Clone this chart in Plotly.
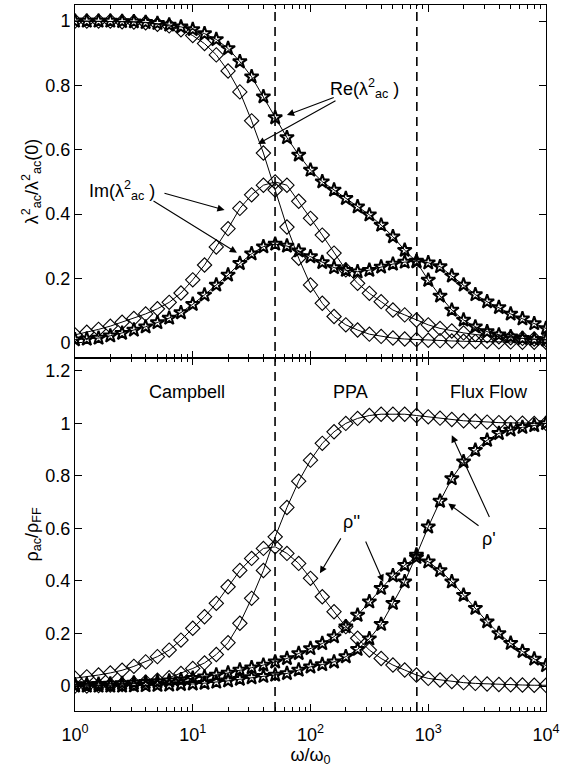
import math
import plotly.graph_objects as go

# frequency grid omega/omega0 (10 points per decade)
omega = [1, 1.259, 1.585, 1.995, 2.512, 3.162, 3.981, 5.012, 6.310, 7.943,
         10, 12.59, 15.85, 19.95, 25.12, 31.62, 39.81, 50.12, 63.10, 79.43,
         100, 125.9, 158.5, 199.5, 251.2, 316.2, 398.1, 501.2, 631.0, 794.3,
         1000, 1259, 1585, 1995, 2512, 3162, 3981, 5012, 6310, 7943, 10000]

# top panel: lambda_ac^2 / lambda_ac^2(0)
re_lam_diamond = [1.0, 1.0, 1.0, 1.0, 0.998, 0.997, 0.995, 0.99, 0.985, 0.973,
                  0.955, 0.93, 0.895, 0.845, 0.78, 0.69, 0.59, 0.475, 0.36, 0.263,
                  0.18, 0.123, 0.082, 0.056, 0.04, 0.027, 0.02, 0.015, 0.012, 0.01,
                  0.008, 0.007, 0.006, 0.005, 0.004, 0.004, 0.003, 0.003, 0.002, 0.002, 0.002]
im_lam_diamond = [0.025, 0.033, 0.042, 0.052, 0.064, 0.076, 0.09, 0.106, 0.126, 0.155,
                  0.196, 0.242, 0.298, 0.355, 0.418, 0.46, 0.49, 0.5, 0.49, 0.44,
                  0.387, 0.335, 0.279, 0.227, 0.185, 0.154, 0.128, 0.102, 0.087, 0.071,
                  0.056, 0.045, 0.037, 0.031, 0.026, 0.022, 0.019, 0.016, 0.014, 0.012, 0.01]
re_lam_star = [1.0, 1.0, 1.0, 1.0, 0.999, 0.998, 0.996, 0.993, 0.988, 0.982,
               0.974, 0.961, 0.943, 0.915, 0.874, 0.827, 0.765, 0.70, 0.638, 0.584,
               0.537, 0.501, 0.475, 0.449, 0.423, 0.398, 0.366, 0.33, 0.288, 0.252,
               0.195, 0.146, 0.102, 0.071, 0.05, 0.035, 0.025, 0.019, 0.014, 0.011, 0.009]
im_lam_star = [0.01, 0.012, 0.015, 0.022, 0.03, 0.04, 0.05, 0.063, 0.077, 0.094,
               0.12, 0.149, 0.18, 0.211, 0.247, 0.277, 0.299, 0.307, 0.301, 0.286,
               0.268, 0.25, 0.234, 0.226, 0.221, 0.226, 0.236, 0.245, 0.251, 0.254,
               0.249, 0.237, 0.208, 0.18, 0.15, 0.128, 0.11, 0.09, 0.075, 0.06, 0.045]

# bottom panel: rho_ac / rho_FF
rho1_diamond = [0.0, 0.0, 0.002, 0.004, 0.006, 0.01, 0.015, 0.022, 0.032, 0.048,
                0.067, 0.088, 0.12, 0.165, 0.239, 0.334, 0.44, 0.568, 0.68, 0.78,
                0.86, 0.924, 0.968, 1.0, 1.019, 1.03, 1.035, 1.035, 1.035, 1.03,
                1.025, 1.02, 1.015, 1.01, 1.008, 1.005, 1.003, 1.002, 1.001, 1.0, 1.0]
rho2_diamond = [0.03, 0.035, 0.042, 0.05, 0.06, 0.075, 0.092, 0.112, 0.137, 0.175,
                0.22, 0.264, 0.315, 0.378, 0.44, 0.486, 0.524, 0.53, 0.505, 0.467,
                0.41, 0.34, 0.283, 0.226, 0.182, 0.137, 0.105, 0.08, 0.061, 0.042,
                0.029, 0.023, 0.017, 0.013, 0.01, 0.008, 0.006, 0.005, 0.004, 0.003, 0.003]
rho1_star = [0.0, 0.0, 0.0, 0.0, 0.0, 0.001, 0.002, 0.003, 0.004, 0.006,
             0.008, 0.011, 0.015, 0.02, 0.026, 0.032, 0.037, 0.042, 0.048, 0.061,
             0.073, 0.082, 0.092, 0.112, 0.14, 0.18, 0.235, 0.315, 0.397, 0.499,
             0.606, 0.704, 0.79, 0.854, 0.898, 0.936, 0.962, 0.975, 0.985, 0.992, 1.0]
rho2_star = [0.005, 0.006, 0.007, 0.008, 0.01, 0.012, 0.014, 0.017, 0.02, 0.024,
             0.03, 0.035, 0.042, 0.05, 0.061, 0.07, 0.08, 0.092, 0.105, 0.124,
             0.143, 0.162, 0.188, 0.226, 0.27, 0.321, 0.372, 0.42, 0.46, 0.49,
             0.473, 0.44, 0.397, 0.346, 0.296, 0.245, 0.2, 0.163, 0.132, 0.103, 0.078]

regime_bounds = [50, 800]
regime_labels = ["Campbell", "PPA", "Flux Flow"]
regime_label_pos = [8.9, 219, 3310]

x_tickvals = [1, 10, 100, 1000, 10000]
x_ticktext = ["10<sup>0</sup>", "10<sup>1</sup>", "10<sup>2</sup>", "10<sup>3</sup>", "10<sup>4</sup>"]
top_ytickvals = [0, 0.2, 0.4, 0.6, 0.8, 1]
top_yticktext = ["0", "0.2", "0.4", "0.6", "0.8", "1"]
bot_ytickvals = [0, 0.2, 0.4, 0.6, 0.8, 1, 1.2]
bot_yticktext = ["0", "0.2", "0.4", "0.6", "0.8", "1", "1.2"]

FONT = "Liberation Sans, Arial, Helvetica, sans-serif"

fig = go.Figure()

def add(y, sym, xa, ya):
    if sym == "diamond":
        marker = dict(symbol="diamond-open", size=11, color="black", line=dict(width=1.1, color="black"))
    else:
        marker = dict(symbol="star-open", size=10.5, color="black", line=dict(width=2, color="black"))
    fig.add_trace(go.Scatter(x=omega, y=y, mode="lines+markers",
                             line=dict(color="black", width=1), marker=marker,
                             xaxis=xa, yaxis=ya, showlegend=False, hoverinfo="skip"))

add(re_lam_diamond, "diamond", "x", "y")
add(im_lam_diamond, "diamond", "x", "y")
add(re_lam_star, "star", "x", "y")
add(im_lam_star, "star", "x", "y")
add(rho1_diamond, "diamond", "x2", "y2")
add(rho2_diamond, "diamond", "x2", "y2")
add(rho1_star, "star", "x2", "y2")
add(rho2_star, "star", "x2", "y2")

for b in regime_bounds:
    fig.add_shape(type="line", xref="x2", yref="paper", x0=b, x1=b,
                  y0=0, y1=1, line=dict(color="black", width=1.6, dash="9px,6px"))

axis_common = dict(showline=True, linecolor="black", linewidth=1, mirror="ticks",
                   ticks="inside", ticklen=7, tickcolor="black", showgrid=False, zeroline=False,
                   automargin=False,
                   tickfont=dict(family=FONT, size=18, color="black"))

xcommon = dict(axis_common, type="log", range=[0, 4], tickmode="array",
               tickvals=x_tickvals, ticktext=x_ticktext,
               minor=dict(ticks="inside", ticklen=4, tickcolor="black", dtick="D1", showgrid=False))

fig.update_layout(
    width=571, height=774,
    margin=dict(l=75, r=25, t=5, b=63),
    paper_bgcolor="white", plot_bgcolor="white",
    font=dict(family=FONT, size=18, color="black"),
    xaxis=dict(xcommon, anchor="y", domain=[0, 1], showticklabels=False),
    xaxis2=dict(xcommon, anchor="y2", domain=[0, 1], ticklabelstandoff=7,
                title=dict(text="ω/ω<sub>0</sub>", font=dict(family=FONT, size=18, color="black"), standoff=2)),
    yaxis=dict(axis_common, domain=[0.5, 1], range=[-0.047, 1.05], tickmode="array",
               tickvals=top_ytickvals, ticktext=top_yticktext,
               title=dict(text="λ<sup>2</sup><sub>ac</sub>/λ<sup>2</sup><sub>ac</sub>(0)",
                          font=dict(family=FONT, size=18, color="black"), standoff=2)),
    yaxis2=dict(axis_common, domain=[0, 0.5], range=[-0.095, 1.249], tickmode="array",
                tickvals=bot_ytickvals, ticktext=bot_yticktext,
                title=dict(text="ρ<sub>ac</sub>/ρ<sub>FF</sub>",
                           font=dict(family=FONT, size=18, color="black"), standoff=2)),
)

txtfont = dict(family=FONT, size=18, color="black")

def label(text, x, y, xr, yr):
    fig.add_annotation(text=text, x=x, y=y, xref=xr, yref=yr, showarrow=False, font=txtfont)

def arrow(xh, yh, xt, yt, xr, yr):
    fig.add_annotation(text="", x=xh, y=yh, ax=xt, ay=yt, xref=xr, yref=yr, axref=xr, ayref=yr,
                       showarrow=True, arrowhead=2, arrowsize=1.3, arrowwidth=1.1, arrowcolor="black",
                       standoff=0, startstandoff=0)

# top panel labels (log10 positions for log axis)
label("Re(λ<sup>2</sup><sub>ac</sub> )", 2.46, 0.79, "x", "y")
arrow(1.80, 0.708, 2.21, 0.764, "x", "y")
arrow(1.554, 0.618, 2.225, 0.755, "x", "y")
label("Im(λ<sup>2</sup><sub>ac</sub> )", 0.40, 0.475, "x", "y")
arrow(1.27, 0.413, 0.747, 0.466, "x", "y")
arrow(1.375, 0.28, 0.654, 0.444, "x", "y")

# bottom panel labels
for t, p in zip(regime_labels, regime_label_pos):
    label(t, math.log10(p), 1.12, "x2", "y2")
label("ρ''", 2.35, 0.624, "x2", "y2")
arrow(2.08, 0.429, 2.265, 0.568, "x2", "y2")
arrow(2.618, 0.397, 2.463, 0.556, "x2", "y2")
label("ρ'", 3.52, 0.56, "x2", "y2")
arrow(3.2, 0.955, 3.525, 0.638, "x2", "y2")
arrow(3.17, 0.695, 3.44, 0.606, "x2", "y2")

fig.write_html("out.html", config={"displayModeBar": False},
               post_script="document.body.style.margin='0px';")
